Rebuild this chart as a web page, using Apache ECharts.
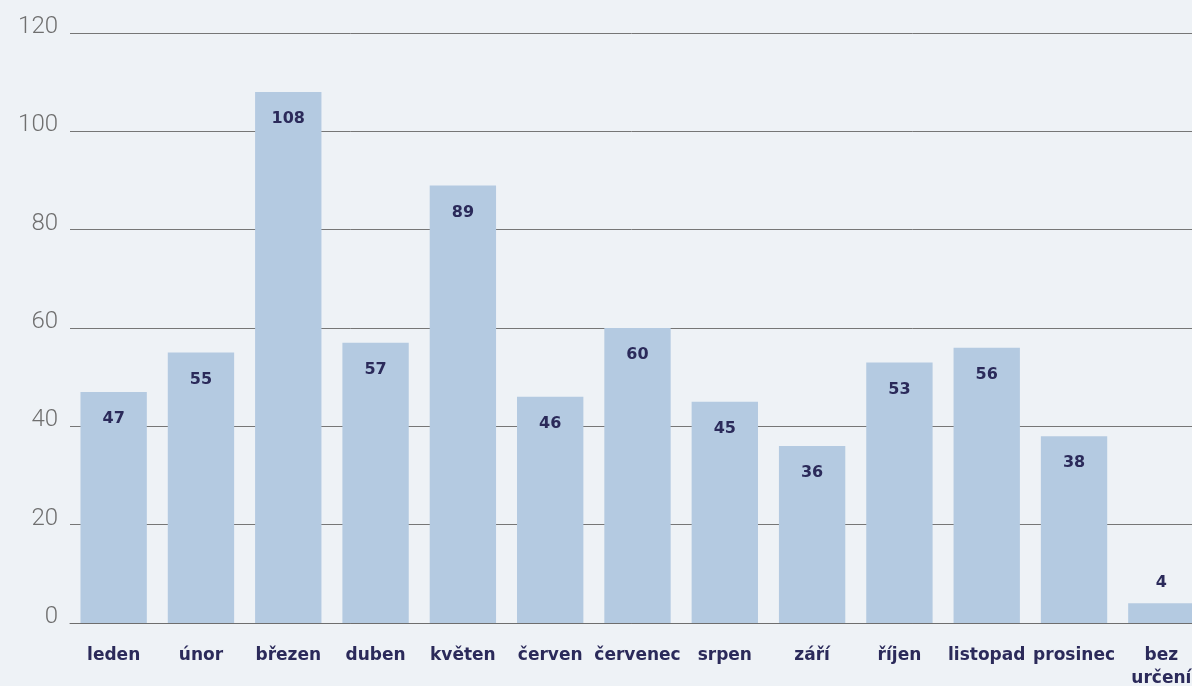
<!DOCTYPE html>
<html>
<head>
<meta charset="utf-8">
<script src="https://cdn.jsdelivr.net/npm/echarts@6/dist/echarts.min.js"></script>
<style>
  html, body { margin: 0; padding: 0; background: #eef2f6; }
  #chart { width: 1192px; height: 686px; }
</style>
</head>
<body>
<div id="chart"></div>
<script>
const months = ['leden', 'únor', 'březen', 'duben', 'květen', 'červen', 'červenec', 'srpen', 'září', 'říjen', 'listopad', 'prosinec', 'bez\nurčení'];
const counts = [47, 55, 108, 57, 89, 46, 60, 45, 36, 53, 56, 38, 4];

const chart = echarts.init(document.getElementById('chart'));

// tiny bars get the label above instead of inside
const barData = counts.map((v) => (v < 10 ? { value: v, label: { position: 'top', distance: 12 } } : v));

chart.setOption({
  backgroundColor: '#eef2f6',
  animation: false,
  // last category runs off the right edge, like the original
  grid: { left: 70, top: 33, width: 1135, height: 590, outerBoundsMode: 'none' },
  xAxis: {
    type: 'category',
    data: months,
    axisTick: { show: false },
    axisLine: { lineStyle: { color: '#6e6e6e', width: 1 } },
    axisLabel: {
      color: '#2b2a5a',
      fontFamily: 'DejaVu Sans',
      fontWeight: 'bold',
      fontSize: 17,
      lineHeight: 23,
      margin: 21,
      interval: 0,
    },
  },
  yAxis: {
    type: 'value',
    min: 0,
    max: 120,
    interval: 20,
    axisLine: { show: false },
    axisTick: { show: false },
    splitLine: { lineStyle: { color: '#767676', width: 1 } },
    axisLabel: {
      color: '#6f6f6f',
      fontFamily: 'Roboto',
      fontWeight: 300,
      fontSize: 24,
      margin: 12,
      verticalAlign: 'bottom',
      lineHeight: 12,
    },
  },
  series: [
    {
      type: 'bar',
      data: barData,
      barCategoryGap: '24%',
      itemStyle: { color: '#b4cae1' },
      label: {
        show: true,
        position: 'insideTop',
        distance: 19,
        color: '#2b2a5a',
        fontFamily: 'DejaVu Sans',
        fontWeight: 'bold',
        fontSize: 16,
      },
    },
  ],
});
</script>
</body>
</html>
